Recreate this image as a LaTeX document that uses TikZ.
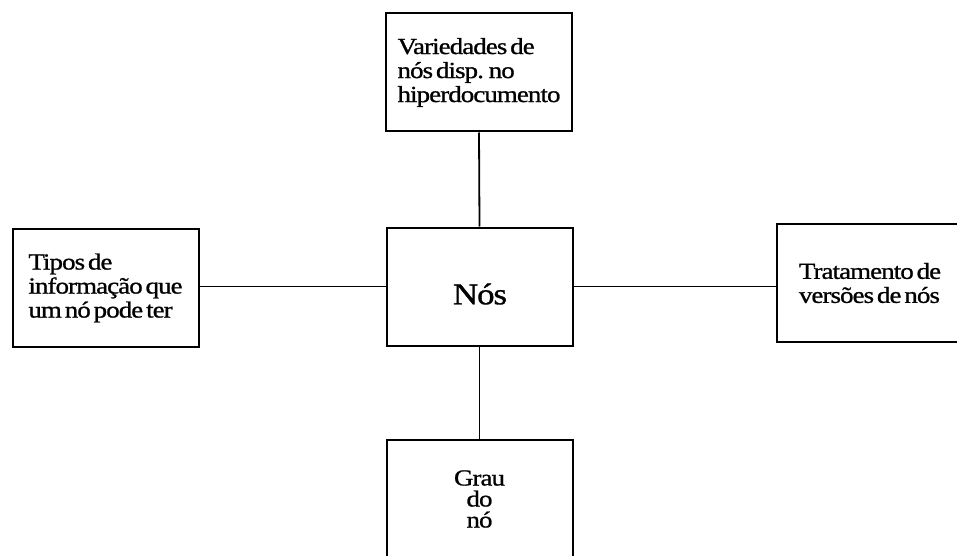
\documentclass[tikz,border=0pt]{standalone}
\usepackage{fontspec}
\setmainfont{Liberation Serif}[FakeStretch=1.17, LetterSpace=-4, WordSpace=0.5, FakeBold=1]
\begin{document}
\begin{tikzpicture}[x=1pt,y=-1pt,
  box/.style={draw=black, line width=2pt, minimum width=186pt, minimum height=118pt,
    inner sep=0pt, font=\fontsize{23}{24}\selectfont, align=left},
  link/.style={draw=black, line width=1.8pt}]
  \useasboundingbox (0,0) rectangle (957,556);
  % surrounding topics
  \node[box] (top) at (479,72.5) {Variedades de\\nós disp. no\\hiperdocumento};
  \node[box] (left) at (105.5,288) {Tipos de\\informação que\\um nó pode ter};
  \node[box] (right) at (870,283) {Tratamento de\\versões de nós};
  \node[box, align=center, font=\fontsize{23}{21}\selectfont] (bottom) at (479.5,499) {Grau\\do\\nó};
  % central topic
  \node[box] (center) at (479.5,286.5) {};
  \node[font=\fontsize{30}{30}\selectfont, inner sep=0pt] (nos) at (480,294) {Nós};
  % connections
  \draw[link] (top.south) -- (center.north);
  \draw[link] (center.south) -- (bottom.north);
  \draw[link] (left.east |- center.west) -- (center.west);
  \draw[link] (center.east) -- (center.east -| right.west);
\end{tikzpicture}
\end{document}
